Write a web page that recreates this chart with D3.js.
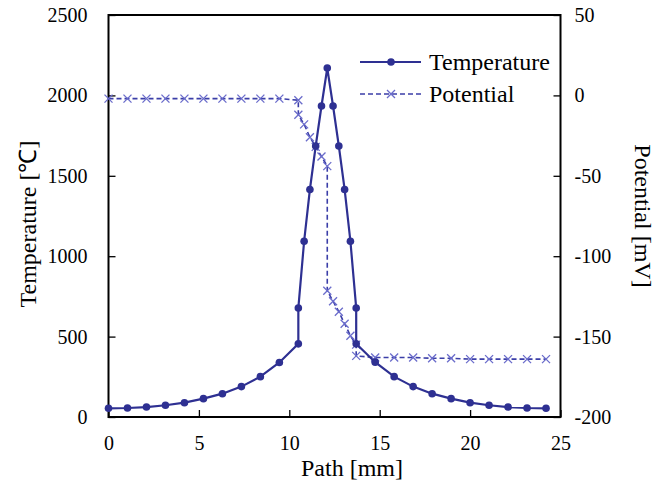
<!DOCTYPE html>
<html>
<head>
<meta charset="utf-8">
<script src="https://cdn.jsdelivr.net/npm/d3@7"></script>
<style>
  html, body { margin: 0; padding: 0; background: #fff; }
  svg text { font-family: "Liberation Serif", "Times New Roman", serif; fill: #000; }
</style>
</head>
<body>
<svg id="chart" width="670" height="483"></svg>
<script>
// path positions [mm] (vertical steps repeat an x)
const pathMM = [0, 1.05, 2.1, 3.15, 4.2, 5.25, 6.3, 7.35, 8.4, 9.45, 10.5,
  10.5, 10.82, 11.14, 11.46, 11.78, 12.1, 12.1, 12.42, 12.74, 13.06, 13.38, 13.7,
  13.7, 14.75, 15.8, 16.85, 17.9, 18.95, 20.0, 21.05, 22.1, 23.15, 24.2];

// temperature [°C]; null where only the potential has a point
const temperature = [54, 56, 62, 73, 89, 114, 145, 189, 251, 339, 455,
  678, 1093, 1415, 1685, 1934, 2170, null, 1934, 1685, 1415, 1093, 678,
  455, 341, 251, 189, 145, 114, 89, 73, 62, 56, 54];

// potential [mV]
const potential = [-2, -2, -2, -2, -2, -2, -2, -2, -2, -2, -3,
  -12, -18, -26, -32, -38, -44, -121.5, -128, -134.5, -142, -149.5, -155,
  -162, -163, -163, -163, -163.5, -163.5, -164, -164, -164, -164, -164];

const xTicks = [0, 5, 10, 15, 20, 25];
const tempTicks = [0, 500, 1000, 1500, 2000, 2500];
const potTicks = [-200, -150, -100, -50, 0, 50];

const seriesNames = ["Temperature", "Potential"];
const tempColour = "#2E3092";
const potColour = "#3B3EA8";
const potMarker = "#6A6CCB";

const svg = d3.select("#chart");
const plot = { left: 108.5, right: 560.5, top: 15, bottom: 417 };

const x = d3.scaleLinear().domain([0, 25]).range([plot.left, plot.right]);
const yT = d3.scaleLinear().domain([0, 2500]).range([plot.bottom, plot.top]);
const yP = d3.scaleLinear().domain([-200, 50]).range([plot.bottom, plot.top]);

const pts = pathMM.map((p, i) => ({ p, t: temperature[i], v: potential[i] }));
const tPts = pts.filter(d => d.t !== null);

// axes (inward ticks)
const gx = svg.append("g").attr("transform", `translate(0,${plot.bottom})`)
  .call(d3.axisBottom(x).tickValues(xTicks).tickSize(-7).tickPadding(19).tickFormat(d => String(d)));
const gl = svg.append("g").attr("transform", `translate(${plot.left},0)`)
  .call(d3.axisLeft(yT).tickValues(tempTicks).tickSize(-7).tickPadding(21).tickFormat(d => String(d)));
const gr = svg.append("g").attr("transform", `translate(${plot.right},0)`)
  .call(d3.axisRight(yP).tickValues(potTicks).tickSize(-7).tickPadding(14).tickFormat(d => String(d)));

[gx, gl, gr].forEach(g => {
  g.select(".domain").remove();
  g.selectAll(".tick line").attr("stroke", "#000").attr("stroke-width", 1.3);
  g.selectAll(".tick text").style("font-size", "20px")
    .style("font-family", "'Liberation Serif', 'Times New Roman', serif").attr("fill", "#000");
});

// frame
svg.append("rect")
  .attr("x", plot.left).attr("y", plot.top)
  .attr("width", plot.right - plot.left).attr("height", plot.bottom - plot.top)
  .attr("fill", "none").attr("stroke", "#000").attr("stroke-width", 2);

// potential (dashed with x markers)
const potLine = d3.line().x(d => x(d.p)).y(d => yP(d.v));
svg.append("path").datum(pts)
  .attr("d", potLine)
  .attr("fill", "none").attr("stroke", potColour)
  .attr("stroke-width", 1.6).attr("stroke-dasharray", "5,3");

function crossPath(cx, cy, s) {
  return `M${cx - s},${cy - s}L${cx + s},${cy + s}M${cx - s},${cy + s}L${cx + s},${cy - s}`;
}
svg.append("g").selectAll("path").data(pts).enter().append("path")
  .attr("d", d => crossPath(x(d.p), yP(d.v), 4))
  .attr("stroke", potMarker).attr("stroke-width", 1.3).attr("fill", "none");

// temperature (solid with dots)
const tempLine = d3.line().x(d => x(d.p)).y(d => yT(d.t));
svg.append("path").datum(tPts)
  .attr("d", tempLine)
  .attr("fill", "none").attr("stroke", tempColour).attr("stroke-width", 2.2);
svg.append("g").selectAll("circle").data(tPts).enter().append("circle")
  .attr("cx", d => x(d.p)).attr("cy", d => yT(d.t)).attr("r", 3.8)
  .attr("fill", tempColour);

// axis titles
svg.append("text").attr("x", 352).attr("y", 476)
  .attr("text-anchor", "middle").style("font-size", "24px").text("Path [mm]");
svg.append("text")
  .attr("transform", "translate(36,224) rotate(-90)")
  .attr("text-anchor", "middle").style("font-size", "24px").text("Temperature [℃]");
svg.append("text")
  .attr("transform", "translate(635,216) rotate(90)")
  .attr("text-anchor", "middle").style("font-size", "24px").text("Potential [mV]");

// legend
const lg = svg.append("g");
const legY = [62, 94];
lg.append("line").attr("x1", 360).attr("x2", 421).attr("y1", legY[0]).attr("y2", legY[0])
  .attr("stroke", tempColour).attr("stroke-width", 2.2);
lg.append("circle").attr("cx", 391).attr("cy", legY[0]).attr("r", 3.8).attr("fill", tempColour);
lg.append("line").attr("x1", 360).attr("x2", 421).attr("y1", legY[1]).attr("y2", legY[1])
  .attr("stroke", potColour).attr("stroke-width", 1.6).attr("stroke-dasharray", "5,3");
lg.append("path").attr("d", crossPath(391, legY[1], 4))
  .attr("stroke", potMarker).attr("stroke-width", 1.3).attr("fill", "none");
lg.selectAll("text.leg").data(seriesNames).enter().append("text")
  .attr("class", "leg")
  .attr("x", 429).attr("y", (d, i) => legY[i]).attr("dy", "0.35em")
  .style("font-size", "24px").text(d => d);
</script>
</body>
</html>
